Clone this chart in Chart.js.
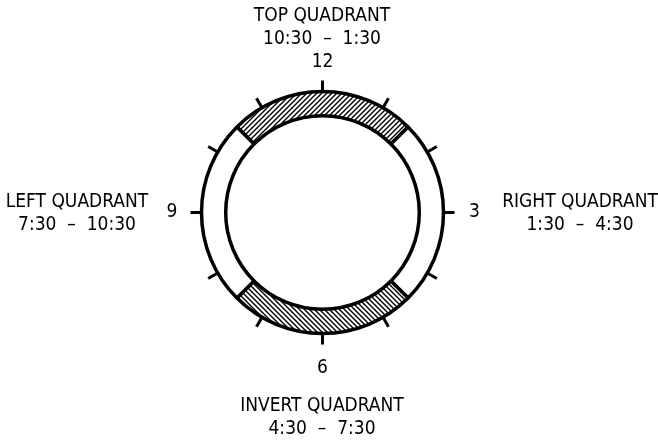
<!DOCTYPE html>
<html>
<head>
<meta charset="utf-8">
<script src="https://cdn.jsdelivr.net/npm/chart.js@4"></script>
<style>
  html, body { margin: 0; padding: 0; background: #fff; }
  #wrap { width: 658px; height: 443px; }
</style>
</head>
<body>
<div id="wrap"><canvas id="chart"></canvas></div>
<script>
// =====================================
// DATA
// =====================================
const quadrants = ["TOP QUADRANT", "RIGHT QUADRANT", "INVERT QUADRANT", "LEFT QUADRANT"];
const quadrantRanges = ["10:30  \u2013  1:30", "1:30  \u2013  4:30", "4:30  \u2013  7:30", "7:30  \u2013  10:30"];
const quadrantHours = [3, 3, 3, 3];

const hourTicks = [12, 1, 2, 3, 4, 5, 6, 7, 8, 9, 10, 11];
const hourLabels = ["12", "", "", "3", "", "", "6", "", "", "9", "", ""];

// =====================================
// STYLE
// =====================================
const FONT = "'DejaVu Sans Condensed', 'DejaVu Sans', sans-serif";
const FONT_SIZE = 19;

// gap between ring and hour number, per hour
const labelGap = [29.5, 0, 0, 31, 0, 0, 35, 0, 0, 29.5, 0, 0];

// quadrant caption anchors (center of 2-line block)
const captionPos = [
    { x: 322, y: 28 },
    { x: 580, y: 214 },
    { x: 322, y: 418 },
    { x: 77, y: 214 }
];

function makeHatch(dir) {
    const s = 5;
    const c = document.createElement("canvas");
    c.width = s;
    c.height = s;
    const g = c.getContext("2d");
    g.fillStyle = "#fff";
    g.fillRect(0, 0, s, s);
    g.strokeStyle = "#000";
    g.lineWidth = 1.4;
    g.beginPath();
    if (dir > 0) {
        g.moveTo(-1, s + 1); g.lineTo(s + 1, -1);
        g.moveTo(-1, 1); g.lineTo(1, -1);
        g.moveTo(s - 1, s + 1); g.lineTo(s + 1, s - 1);
    } else {
        g.moveTo(-1, -1); g.lineTo(s + 1, s + 1);
        g.moveTo(s - 1, -1); g.lineTo(s + 1, 1);
        g.moveTo(-1, s - 1); g.lineTo(1, s + 1);
    }
    g.stroke();
    return g.createPattern(c, "repeat");
}

const fills = [makeHatch(1), "#fff", makeHatch(-1), "#fff"];

// =====================================
// CLOCK TICKS + LABELS
// =====================================
const clockPlugin = {
    id: "clock",
    afterDatasetsDraw(chart) {
        const arc = chart.getDatasetMeta(0).data[0];
        const cx = arc.x, cy = arc.y, r = arc.outerRadius;
        const ctx = chart.ctx;
        ctx.save();
        ctx.strokeStyle = "#000";
        ctx.lineWidth = 3;
        ctx.fillStyle = "#000";
        ctx.font = FONT_SIZE + "px " + FONT;
        ctx.textAlign = "center";
        ctx.textBaseline = "middle";

        hourTicks.forEach((h, i) => {
            const a = (h % 12) / 12 * Math.PI * 2 - Math.PI / 2;
            ctx.beginPath();
            ctx.moveTo(cx + Math.cos(a) * r, cy + Math.sin(a) * r);
            ctx.lineTo(cx + Math.cos(a) * (r + 11), cy + Math.sin(a) * (r + 11));
            ctx.stroke();
            if (hourLabels[i]) {
                const lr = r + labelGap[i];
                ctx.fillText(hourLabels[i], cx + Math.cos(a) * lr, cy + Math.sin(a) * lr);
            }
        });

        quadrants.forEach((q, i) => {
            const p = captionPos[i];
            ctx.fillText(q, p.x, p.y - 11.5);
            ctx.fillText(quadrantRanges[i], p.x, p.y + 11.5);
        });
        ctx.restore();
    }
};

// =====================================
// CHART
// =====================================
const ctx = document.getElementById("chart").getContext("2d");

new Chart(ctx, {
    type: "doughnut",
    data: {
        labels: quadrants,
        datasets: [{
            data: quadrantHours,
            backgroundColor: fills,
            borderColor: "#000",
            borderWidth: 3.5,
            hoverOffset: 0
        }]
    },
    options: {
        responsive: true,
        maintainAspectRatio: false,
        animation: false,
        rotation: -45,
        radius: 121,
        cutout: "80%",
        layout: { padding: { left: 0, right: 13, top: 0, bottom: 18 } },
        plugins: {
            legend: { display: false },
            tooltip: { enabled: false }
        },
        events: []
    },
    plugins: [clockPlugin]
});
</script>
</body>
</html>
